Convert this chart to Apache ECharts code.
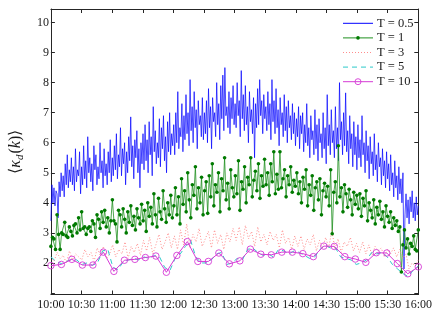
<!DOCTYPE html>
<html><head><meta charset="utf-8">
<script src="https://cdn.jsdelivr.net/npm/echarts@6/dist/echarts.min.js"></script>
<style>html,body{margin:0;padding:0;background:#fff}#c{width:435px;height:316px}</style>
</head><body><div id="c"></div>
<script>
// x tick labels (minutes after 10:00 → HH:MM)
const xTickLabels = ['10:00','10:30','11:00','11:30','12:00','12:30','13:00','13:30','14:00','14:30','15:00','15:30','16:00'];
const yTickValues = [1,2,3,4,5,6,7,8,9,10];
const yLabelValues = [2,3,4,5,6,7,8,9,10];
const seriesNames = ['T = 0.5','T = 1','T = 3','T = 5','T = 10'];

const t05 = [
3.4,4.6,4.0,4.5,3.9,4.4,4.3,3.5,4.7,4.2,5.0,4.4,4.9,4.2,5.3,4.6,5.6,4.5,5.1,4.7,5.5,4.6,5.2,4.4,5.8,4.7,5.1,4.9,5.7,4.3,
5.2,4.6,5.9,4.8,5.4,4.5,6.2,5.0,5.5,4.7,5.3,4.4,5.9,5.1,5.6,4.6,5.2,4.8,6.0,5.0,5.4,4.5,5.8,4.9,5.3,4.6,5.7,5.0,6.1,4.7,
5.5,4.9,5.9,5.1,6.3,4.8,5.6,5.2,6.5,4.9,5.8,5.3,6.0,4.6,5.7,5.0,6.2,5.4,6.86,5.2,5.9,4.8,6.1,5.5,6.4,5.0,5.8,4.5,6.0,5.3,
6.3,5.1,6.6,5.4,6.1,5.0,6.7,5.6,6.2,4.9,7.2,5.7,6.4,5.3,6.0,5.5,6.8,5.2,6.5,5.8,6.9,5.4,6.2,5.0,6.7,5.7,7.0,5.6,6.3,5.9,
6.6,5.6,7.0,6.0,7.7,5.8,6.5,6.2,7.3,5.7,6.9,6.1,7.6,6.3,7.0,5.9,8.1,6.4,7.2,6.0,7.7,6.5,7.1,5.8,7.4,6.6,6.9,6.2,7.5,6.1,
7.0,6.3,7.4,6.0,7.8,6.5,7.2,5.8,7.5,6.7,7.0,6.2,8.0,6.6,7.3,6.1,7.9,6.8,8.25,6.4,8.5,6.9,7.2,6.5,7.7,6.3,7.5,6.8,7.9,6.6,
7.3,6.5,8.0,6.9,7.4,6.2,8.4,6.8,7.6,6.4,7.9,6.6,7.2,6.0,7.7,6.7,7.1,6.3,7.5,5.5,7.3,6.5,7.8,6.6,8.1,6.9,7.4,6.3,7.6,6.8,
7.2,6.4,7.7,6.6,7.3,6.1,8.1,6.7,7.4,6.3,7.8,6.5,7.1,5.9,7.5,6.6,7.0,6.2,7.6,6.4,7.2,6.0,7.4,6.5,6.9,6.1,7.3,6.3,7.0,5.9,
6.8,6.2,7.2,5.8,6.9,6.3,7.0,5.7,6.6,6.0,7.3,5.9,6.5,5.5,6.9,6.1,6.4,5.6,7.1,5.8,6.6,5.4,6.8,6.0,6.3,5.5,7.0,5.8,6.5,5.3,
7.6,5.9,6.6,5.6,7.1,6.0,6.4,5.5,7.2,5.8,6.5,5.4,8.0,6.1,6.7,5.6,7.0,5.9,7.66,5.7,6.4,5.3,6.9,5.8,6.3,5.2,6.7,5.6,6.2,5.1,
6.6,5.5,6.1,5.2,6.9,5.6,6.0,5.0,6.4,5.4,5.9,4.8,6.2,5.3,5.7,4.9,6.3,5.1,5.6,4.7,6.0,5.2,5.5,4.6,5.8,4.9,5.4,4.5,5.7,4.8,
5.3,4.4,5.6,4.6,5.0,4.2,5.4,4.5,4.9,4.1,5.2,4.3,4.8,4.0,5.0,1.8,3.6,4.3,3.5,4.1,3.3,4.2,3.7,4.4,3.5,4.0,3.4,4.2,3.6,3.9
];
const t1 = [
2.55,2.85,2.8,2.45,3.6,2.95,2.45,3.0,2.95,3.35,2.9,2.85,3.2,3.05,2.9,3.25,3.3,3.0,3.5,3.1,
3.7,3.15,3.2,2.95,3.15,3.2,3.05,3.4,3.3,2.85,3.6,3.45,3.15,3.7,3.35,3.75,3.2,3.5,3.0,3.4,
4.1,3.4,3.3,2.7,3.75,3.6,3.2,3.8,3.45,3.0,3.7,3.35,3.9,3.25,3.55,3.1,3.8,3.5,3.3,3.95,
3.4,3.75,3.05,4.0,3.55,3.85,3.3,4.3,3.6,3.2,4.15,3.7,3.45,4.4,3.8,3.35,4.0,3.6,4.25,3.5,
3.9,4.5,3.6,4.2,3.3,4.8,3.95,4.4,3.7,5.0,4.1,3.5,4.6,4.25,5.2,3.8,4.5,4.0,4.85,3.6,
4.4,4.7,3.65,4.9,4.2,5.3,3.9,4.6,4.35,5.0,3.7,4.8,4.4,5.5,4.1,4.65,3.8,5.1,4.5,4.2,
4.9,4.3,5.4,3.75,4.7,4.45,5.2,4.0,4.85,4.6,5.5,4.2,4.75,5.05,4.4,5.3,4.15,4.9,4.55,5.45,
4.6,5.0,4.25,5.3,4.7,5.7,4.3,4.95,4.45,5.7,4.5,4.8,5.1,4.2,4.9,4.6,5.2,4.35,4.75,4.55,
5.0,4.3,4.7,4.0,4.85,4.45,5.1,3.9,4.6,4.25,4.9,3.75,4.5,4.7,4.1,4.8,3.6,4.4,4.65,4.2,
4.55,3.9,5.1,2.97,4.35,4.7,4.0,5.9,4.2,4.5,3.7,4.6,4.3,3.85,4.45,4.1,3.6,4.35,3.95,4.25,
3.8,4.3,3.55,4.15,3.9,4.4,3.4,4.0,3.75,3.5,4.1,3.3,3.85,3.6,4.05,3.45,3.7,3.2,3.9,3.55,
3.35,3.7,3.15,3.5,3.25,3.4,3.05,3.2,1.7,2.6,3.1,2.5,2.8,2.3,2.65,2.55,2.9,2.45,2.4,3.1
];
const t3 = [
2.2,2.05,2.35,2.15,2.25,2.0,2.4,2.1,2.3,2.2,
2.1,2.45,2.2,2.35,2.05,2.5,2.25,2.55,2.15,2.3,
2.6,2.2,2.45,2.3,2.7,2.15,2.55,2.35,2.65,2.25,
2.75,2.4,2.85,2.3,2.6,2.95,2.45,2.7,3.0,2.5,
2.9,2.45,3.1,2.6,3.3,2.5,2.95,2.7,3.15,2.55,
2.8,3.05,2.5,3.1,2.65,2.95,2.45,3.0,2.7,3.15,
2.75,3.2,2.6,3.25,2.8,3.05,2.55,3.2,2.7,2.95,
2.6,3.05,2.75,2.95,2.5,3.1,2.65,2.85,2.45,2.9,
2.55,2.9,2.45,2.8,2.6,2.95,2.4,2.75,2.5,2.85,
2.5,3.1,2.45,2.8,2.35,2.7,2.55,2.85,2.4,2.65,
2.35,2.7,2.3,2.6,2.25,2.55,2.4,2.5,2.2,2.45,
2.3,2.5,2.2,2.45,2.15,2.3,1.8,2.0,1.9,2.1
];
const t5 = [
2.2,2.05,1.98,2.05,2.12,2.1,
1.95,2.0,1.92,2.0,2.4,2.45,
1.85,1.78,2.05,2.1,2.15,2.1,
2.2,2.15,2.25,2.2,1.85,1.75,
2.15,2.3,2.55,2.75,2.2,2.0,
2.0,2.1,2.3,2.35,1.95,2.0,
2.15,2.1,2.45,2.5,2.35,2.25,
2.3,2.2,2.45,2.4,2.3,2.4,
2.35,2.25,2.15,2.2,2.45,2.6,
2.5,2.5,2.2,2.15,2.1,1.95,
2.0,2.1,2.35,2.3,2.35,2.2,
1.95,1.8,1.65,1.55,1.75,1.9
];
const t10 = [1.91,1.95,2.12,1.93,1.93,2.36,1.72,2.09,2.12,2.18,2.23,1.69,2.25,2.71,2.05,2.05,2.33,1.97,
2.07,2.46,2.29,2.27,2.36,2.36,2.31,2.21,2.56,2.55,2.21,2.13,2.02,2.34,2.33,1.98,1.64,1.87];

const SPAN = 360; // minutes from 10:00 to 16:00
function pairs(arr){ const n = arr.length; return arr.map((v,i)=>[i*SPAN/(n-1), v]); }

const FONT = 'Liberation Serif';
const TXT = '#1a1a1a';
const AX = '#262626';
const COL = ['#0000ff','#1e8f1e','#ff8c8c','#2cc9c9','#d63ad6'];
const DASH = [null, null, [1,2], [5,4], null];

// legend drawn as graphic (line sample + marker + text)
const LEG_X = 343, LEG_W = 30, LEG_Y0 = 23.3, LEG_DY = 14.6;
const legendGraphics = [];
seriesNames.forEach((nm,k)=>{
  const y = LEG_Y0 + k*LEG_DY;
  const ls = {stroke:COL[k], lineWidth:1};
  if (DASH[k]) ls.lineDash = DASH[k];
  legendGraphics.push({type:'line', shape:{x1:LEG_X, y1:y, x2:LEG_X+LEG_W, y2:y}, style:ls, silent:true});
  if (k===1) legendGraphics.push({type:'circle', shape:{cx:LEG_X+LEG_W/2, cy:y, r:1.8}, style:{fill:'#007a00'}, silent:true});
  if (k===4) legendGraphics.push({type:'circle', shape:{cx:LEG_X+LEG_W/2, cy:y, r:3}, style:{fill:'none', stroke:COL[4], lineWidth:0.9}, silent:true});
  legendGraphics.push({type:'text', x:LEG_X+LEG_W+4, y:y, style:{text:nm, font:'12.5px "Liberation Serif"', fill:TXT, verticalAlign:'middle'}, silent:true});
});

const chart = echarts.init(document.getElementById('c'), null, {renderer:'canvas'});
const xBase = {type:'value', min:0, max:SPAN, interval:30};
const yBase = {type:'value', min:0.95, max:10.45};
chart.setOption({
  animation:false,
  backgroundColor:'#fff',
  grid:{left:36.7, right:16.7, top:9, bottom:21.5, containLabel:false},
  xAxis:[
    Object.assign({}, xBase, {position:'bottom',
      axisLine:{lineStyle:{color:AX, width:1}},
      axisTick:{inside:true, length:4, lineStyle:{color:AX}},
      axisLabel:{fontFamily:FONT, fontSize:12, color:TXT, margin:4, showMinLabel:true, showMaxLabel:true, hideOverlap:false,
        formatter:v=>xTickLabels[Math.round(v/30)]},
      splitLine:{show:false}}),
    Object.assign({}, xBase, {position:'top',
      axisLine:{onZero:false, lineStyle:{color:AX, width:1}},
      axisTick:{inside:true, length:4, lineStyle:{color:AX}},
      axisLabel:{show:false}, splitLine:{show:false}})
  ],
  yAxis:[
    Object.assign({}, yBase, {position:'left',
      axisLine:{show:true, onZero:false, lineStyle:{color:AX, width:1}},
      axisTick:{show:true, inside:true, length:4, lineStyle:{color:AX}, customValues:yTickValues},
      axisLabel:{fontFamily:FONT, fontSize:12, color:TXT, margin:2, customValues:yLabelValues},
      splitLine:{show:false},
      name:'{a|⟨}{i|κ}{s|d}{a|(}{i|k}{a|)⟩}', nameLocation:'middle', nameGap:23, nameRotate:90,
      nameTextStyle:{rich:{
        a:{fontFamily:FONT, fontSize:16, color:TXT, lineHeight:20, verticalAlign:'middle'},
        i:{fontFamily:FONT, fontSize:16, fontStyle:'italic', color:TXT, lineHeight:20, verticalAlign:'middle'},
        s:{fontFamily:FONT, fontSize:11, fontStyle:'italic', color:TXT, lineHeight:20, verticalAlign:'bottom', padding:[0,1,0,0]}
      }}}),
    Object.assign({}, yBase, {position:'right',
      axisLine:{show:true, onZero:false, lineStyle:{color:AX, width:1}},
      axisTick:{show:true, inside:true, length:4, lineStyle:{color:AX}, customValues:yTickValues},
      axisLabel:{show:false}, splitLine:{show:false}})
  ],
  graphic: legendGraphics,
  series:[
    {name:seriesNames[0], type:'line', data:pairs(t05), symbol:'none', lineStyle:{color:COL[0], width:0.7}},
    {name:seriesNames[1], type:'line', data:pairs(t1), symbol:'circle', symbolSize:3.6, showSymbol:true,
      lineStyle:{color:COL[1], width:0.8}, itemStyle:{color:'#007a00', borderWidth:0}},
    {name:seriesNames[2], type:'line', data:pairs(t3), symbol:'none', lineStyle:{color:COL[2], width:1, type:DASH[2]}},
    {name:seriesNames[3], type:'line', data:pairs(t5), symbol:'none', lineStyle:{color:COL[3], width:1, type:DASH[3]}},
    {name:seriesNames[4], type:'line', data:pairs(t10), symbol:'circle', symbolSize:6.5, showSymbol:true,
      lineStyle:{color:COL[4], width:1}, itemStyle:{color:'rgba(0,0,0,0)', borderColor:COL[4], borderWidth:0.9}}
  ]
});
</script></body></html>
